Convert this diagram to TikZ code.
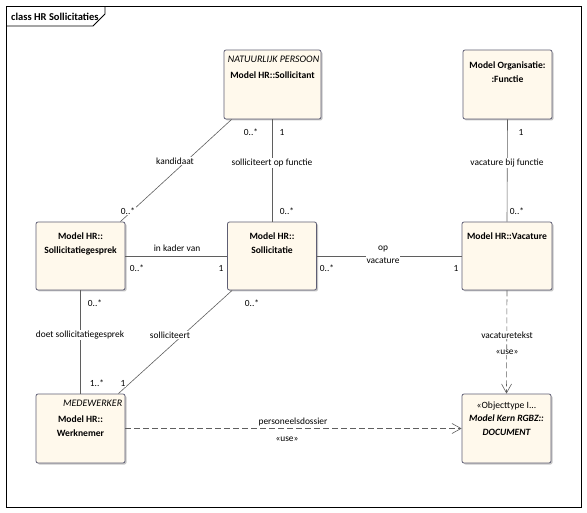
\documentclass[tikz,border=0pt]{standalone}
\usepackage{fontspec}
\setmainfont{Carlito}
\usepackage{xcolor}
\usepackage{tikz}
\usetikzlibrary{arrows.meta,positioning,shadows}
\definecolor{boxfill}{HTML}{FFF9EC}
\definecolor{boxline}{HTML}{5E5E74}
\definecolor{conline}{HTML}{5F5F5F}

\begin{document}
\begin{tikzpicture}
		[x=1pt,y=-1pt,
		cls/.style={draw=boxline,fill=boxfill,rounded corners=2pt,line width=0.8pt,minimum width=89pt,minimum height=68pt,inner sep=0pt,
			drop shadow={shadow xshift=1.5pt,shadow yshift=-1.5pt,fill=black!22,opacity=1}},
		nm/.style={anchor=north,align=center,font=\fontsize{9.6}{13.5}\selectfont\bfseries,inner sep=0pt},
		st/.style={anchor=north east,font=\fontsize{10}{11}\selectfont\itshape,inner sep=0pt},
		lbl/.style={font=\fontsize{9.4}{11}\selectfont,fill=white,inner sep=1pt,align=center},
		mult/.style={font=\fontsize{9.4}{11}\selectfont,fill=white,inner sep=1pt},
		assoc/.style={draw=conline,line width=0.6pt},
		dep/.style={draw=conline,line width=0.6pt,dash pattern=on 6pt off 3pt,-{Straight Barb[length=9pt,width=10pt]}}]
		\useasboundingbox (0,0) rectangle (587,513);
		% frame
		\draw[line width=0.8pt] (6.5,6.5) rectangle (581,507);
		\draw[line width=0.8pt] (6.5,26) -- (93,26) -- (105,14) -- (105,6.5);
		\node[anchor=west,font=\fontsize{10.5}{12}\selectfont\bfseries,inner sep=0pt] (title) at (11,16.5) {class HR Sollicitaties};
		% classes
		\node[cls,minimum width=97pt,minimum height=69pt] (sollicitant) at (272.5,84.5) {};
		\node[cls,minimum height=69pt] (functie) at (507.5,84.5) {};
		\node[cls] (gesprek) at (80.5,256) {};
		\node[cls] (sollicitatie) at (272,256) {};
		\node[cls,minimum width=90pt] (vacature) at (507,256) {};
		\node[cls,minimum height=69pt] (werknemer) at (80.5,428.5) {};
		\node[cls,minimum height=69pt] (document) at (506.5,428.5) {};
		\node[st] (sollicitant-st) at ([xshift=-2pt,yshift=-6pt]sollicitant.north east) {NATUURLIJK PERSOON};
		\node[nm] (sollicitant-nm) at ([yshift=-22pt]sollicitant.north) {Model HR::Sollicitant};
		\node[nm] (functie-nm) at ([yshift=-12pt]functie.north) {Model Organisatie:\\:Functie};
		\node[nm] (gesprek-nm) at ([yshift=-11pt]gesprek.north) {Model HR::\\Sollicitatiegesprek};
		\node[nm] (sollicitatie-nm) at ([yshift=-11pt]sollicitatie.north) {Model HR::\\Sollicitatie};
		\node[nm] (vacature-nm) at ([yshift=-11pt]vacature.north) {Model HR::Vacature};
		\node[st] (werknemer-st) at ([xshift=-3pt,yshift=-6pt]werknemer.north east) {MEDEWERKER};
		\node[nm] (werknemer-nm) at ([yshift=-22pt]werknemer.north) {Model HR::\\Werknemer};
		\node[nm] (document-nm) at ([yshift=-8pt]document.north) {{\mdseries «Objecttype I...}\\\itshape Model Kern RGBZ::\\\itshape DOCUMENT};
		% connectors
		\draw[assoc] ([xshift=8pt]sollicitant.south west) -- ([xshift=-5pt]gesprek.north east);
		\draw[assoc] (sollicitatie.north |- sollicitant.south) -- (sollicitatie.north);
		\draw[assoc] (functie.south) -- (vacature.north);
		\draw[assoc] (gesprek.east) -- (sollicitatie.west);
		\draw[assoc] (sollicitatie.east) -- (vacature.west);
		\draw[assoc] (gesprek.south) -- (werknemer.north);
		\draw[assoc] ([xshift=5pt]sollicitatie.south west) -- ([xshift=-7pt]werknemer.north east);
		\draw[dep] (vacature.south) -- (document.north);
		\draw[dep] (werknemer.east) -- (document.west);
		% labels
		\node[lbl] (kandidaat) at (175,161) {kandidaat};
		\node[mult] (m1) at (251,132) {0..*};
		\node[mult] (m2) at (128,211) {0..*};
		\node[lbl] (opfunctie) at (272,163) {solliciteert op functie};
		\node[mult] (m3) at (282,132) {1};
		\node[mult] (m4) at (287,211) {0..*};
		\node[lbl] (bijfunctie) at (507,163) {vacature bij functie};
		\node[mult] (m5) at (521,132) {1};
		\node[mult] (m6) at (517,211) {0..*};
		\node[lbl,fill=none] (kader) at (177,248) {in kader van};
		\node[mult] (m7) at (137,268) {0..*};
		\node[mult] (m8) at (221,268) {1};
		\node[lbl,font=\fontsize{9.4}{12.5}\selectfont] (opvacature) at (383,255) {op\\vacature};
		\node[mult] (m9) at (327,268) {0..*};
		\node[mult] (m10) at (456,268) {1};
		\node[lbl] (doet) at (80,335) {doet sollicitatiegesprek};
		\node[mult] (m11) at (95,303) {0..*};
		\node[mult] (m12) at (97,383) {1..*};
		\node[lbl] (solliciteert) at (170,335) {solliciteert};
		\node[mult] (m13) at (252,303) {0..*};
		\node[mult] (m14) at (123,383) {1};
		\node[lbl] (tekst) at (507,335) {vacaturetekst};
		\node[lbl] (tekst-use) at (507,352) {«use»};
		\node[lbl,fill=none] (dossier) at (293,422) {personeelsdossier};
		\node[lbl,fill=none] (dossier-use) at (287,439) {«use»};
\end{tikzpicture}
\end{document}
